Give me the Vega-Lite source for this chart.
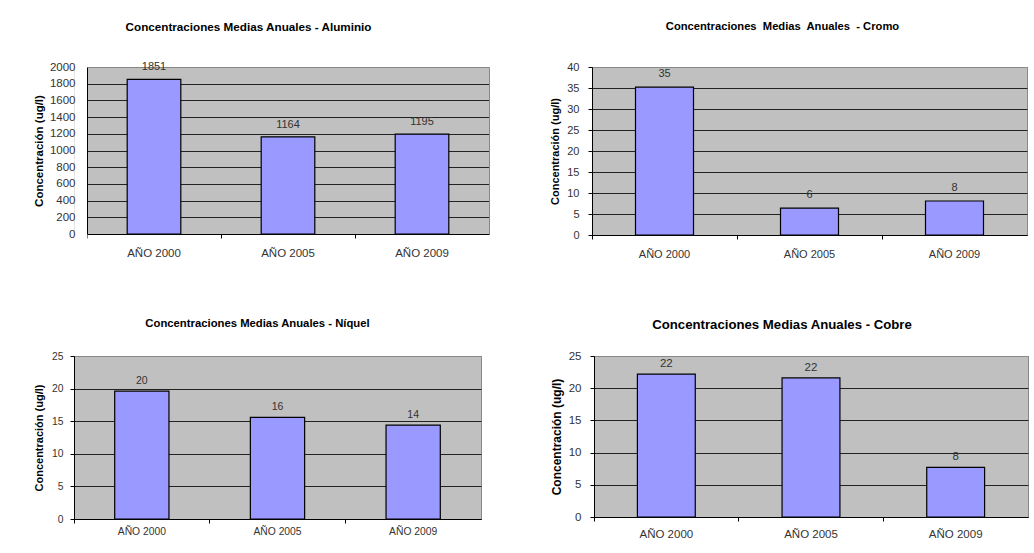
{
  "$schema": "https://vega.github.io/schema/vega-lite/v6.json",
  "padding": {"left": 32, "top": 20, "right": 0, "bottom": 0},
  "background": "#ffffff",
  "config": {
    "font": "Liberation Sans",
    "view": {"fill": "#C0C0C0", "stroke": "#888888", "strokeWidth": 1},
    "axis": {"labelColor": "#333333", "titleColor": "#000000", "titleFontWeight": "bold", "tickColor": "#000000", "domainColor": "#000000", "tickSize": 4, "gridColor": "#222222", "gridOpacity": 1, "gridWidth": 1},
    "axisX": {"grid": false, "labelAngle": 0, "title": null, "bandPosition": 0},
    "axisY": {"format": "d"},
    "title": {"fontWeight": "bold", "color": "#000000", "frame": "group", "anchor": "middle"}
  },
  "columns": 2,
  "align": "none",
  "spacing": {"row": 57, "column": 60},
  "concat": [
    {
      "width": 415, "height": 167,
      "view": {"fill": "#C0C0C0", "stroke": null},
      "title": {"text": "Concentraciones Medias Anuales - Aluminio", "fontSize": 11.7, "offset": 24, "dx": -33},
      "data": {"values": [
        {"anio": "AÑO 2000", "valor": 1851},
        {"anio": "AÑO 2005", "valor": 1164},
        {"anio": "AÑO 2009", "valor": 1195}
      ]},
      "encoding": {
        "x": {"field": "anio", "type": "nominal", "sort": null, "scale": {"range": [13, 415], "paddingInner": 0, "paddingOuter": 0}, "axis": {"labelFontSize": 11.5, "labelPadding": 9}}
      },
      "resolve": {"axis": {"y": "independent"}},
      "layer": [
        {
          "mark": {"type": "bar", "width": {"band": 0.4}, "fill": "#9999FF", "stroke": "#000000", "strokeWidth": 1.2},
          "encoding": {
            "y": {"field": "valor", "type": "quantitative", "scale": {"domain": [0, 2000], "nice": false}, "axis": {"title": "Concentración (ug/l)", "titleFontSize": 11.5, "titlePadding": 5, "labelFontSize": 11.5, "labelPadding": -1, "offset": -13, "tickSize": 13, "tickWidth": 18, "tickColor": "#ffffff", "values": [0, 200, 400, 600, 800, 1000, 1200, 1400, 1600, 1800, 2000], "gridColor": {"condition": {"test": "datum.value === 2000", "value": "#888888"}, "value": "#222222"}}}
          }
        },
        {
          "mark": {"type": "text", "baseline": "middle", "dy": -12, "fontSize": 11, "fill": "#333333"},
          "encoding": {
            "y": {"field": "valor", "type": "quantitative", "axis": {"orient": "right", "labels": false, "ticks": false, "grid": false, "title": null, "domainColor": "#888888"}},
            "text": {"field": "valor", "type": "quantitative", "format": ".0f"}
          }
        }
      ]
    },
    {
      "width": 435, "height": 168,
      "title": {"text": "Concentraciones\u00a0 Medias\u00a0 Anuales\u00a0 - Cromo", "fontSize": 11.2, "offset": 29, "dx": -27},
      "data": {"values": [
        {"anio": "AÑO 2000", "valor": 35.2},
        {"anio": "AÑO 2005", "valor": 6.4},
        {"anio": "AÑO 2009", "valor": 8.1}
      ]},
      "encoding": {
        "x": {"field": "anio", "type": "nominal", "sort": null, "scale": {"paddingInner": 0, "paddingOuter": 0}, "axis": {"labelFontSize": 11, "labelPadding": 9}},
        "y": {"field": "valor", "type": "quantitative", "scale": {"domain": [0, 40], "nice": false}, "axis": {"title": "Concentración (ug/l)", "titleFontSize": 11, "titlePadding": 6, "labelFontSize": 11, "labelPadding": 9, "values": [0, 5, 10, 15, 20, 25, 30, 35, 40], "gridColor": {"condition": {"test": "datum.value === 40", "value": "#888888"}, "value": "#222222"}}}
      },
      "layer": [
        {"mark": {"type": "bar", "width": {"band": 0.4}, "fill": "#9999FF", "stroke": "#000000", "strokeWidth": 1.2}},
        {"mark": {"type": "text", "baseline": "middle", "dy": -13, "fontSize": 11, "fill": "#333333"}, "encoding": {"text": {"field": "valor", "type": "quantitative", "format": ".0f"}}}
      ]
    },
    {
      "width": 407, "height": 163,
      "title": {"text": "Concentraciones Medias Anuales - Níquel", "fontSize": 11.3, "offset": 22, "dx": -20},
      "data": {"values": [
        {"anio": "AÑO 2000", "valor": 19.6},
        {"anio": "AÑO 2005", "valor": 15.6},
        {"anio": "AÑO 2009", "valor": 14.4}
      ]},
      "encoding": {
        "x": {"field": "anio", "type": "nominal", "sort": null, "scale": {"paddingInner": 0, "paddingOuter": 0}, "axis": {"labelFontSize": 10.3, "labelPadding": 3}},
        "y": {"field": "valor", "type": "quantitative", "scale": {"domain": [0, 25], "nice": false}, "axis": {"title": "Concentración (ug/l)", "titleFontSize": 11, "titlePadding": 7.5, "labelFontSize": 10.3, "labelPadding": 7, "values": [0, 5, 10, 15, 20, 25], "gridColor": {"condition": {"test": "datum.value === 25", "value": "#888888"}, "value": "#222222"}}}
      },
      "layer": [
        {"mark": {"type": "bar", "width": {"band": 0.4}, "fill": "#9999FF", "stroke": "#000000", "strokeWidth": 1.2}},
        {"mark": {"type": "text", "baseline": "middle", "dy": -10, "fontSize": 10.5, "fill": "#333333"}, "encoding": {"text": {"field": "valor", "type": "quantitative", "format": ".0f"}}}
      ]
    },
    {
      "width": 434, "height": 161,
      "title": {"text": "Concentraciones Medias Anuales - Cobre", "fontSize": 13.2, "offset": 18, "dx": -29},
      "data": {"values": [
        {"anio": "AÑO 2000", "valor": 22.2},
        {"anio": "AÑO 2005", "valor": 21.6},
        {"anio": "AÑO 2009", "valor": 7.7}
      ]},
      "encoding": {
        "x": {"field": "anio", "type": "nominal", "sort": null, "scale": {"paddingInner": 0, "paddingOuter": 0}, "axis": {"labelFontSize": 11.5, "labelPadding": 7}},
        "y": {"field": "valor", "type": "quantitative", "scale": {"domain": [0, 25], "nice": false}, "axis": {"title": "Concentración (ug/l)", "titleFontSize": 12, "titlePadding": 5, "labelFontSize": 11.5, "labelPadding": 9, "values": [0, 5, 10, 15, 20, 25], "gridColor": {"condition": {"test": "datum.value === 25", "value": "#888888"}, "value": "#222222"}}}
      },
      "layer": [
        {"mark": {"type": "bar", "width": {"band": 0.4}, "fill": "#9999FF", "stroke": "#000000", "strokeWidth": 1.2}},
        {"mark": {"type": "text", "baseline": "middle", "dy": -10, "fontSize": 11.5, "fill": "#333333"}, "encoding": {"text": {"field": "valor", "type": "quantitative", "format": ".0f"}}}
      ]
    }
  ]
}
